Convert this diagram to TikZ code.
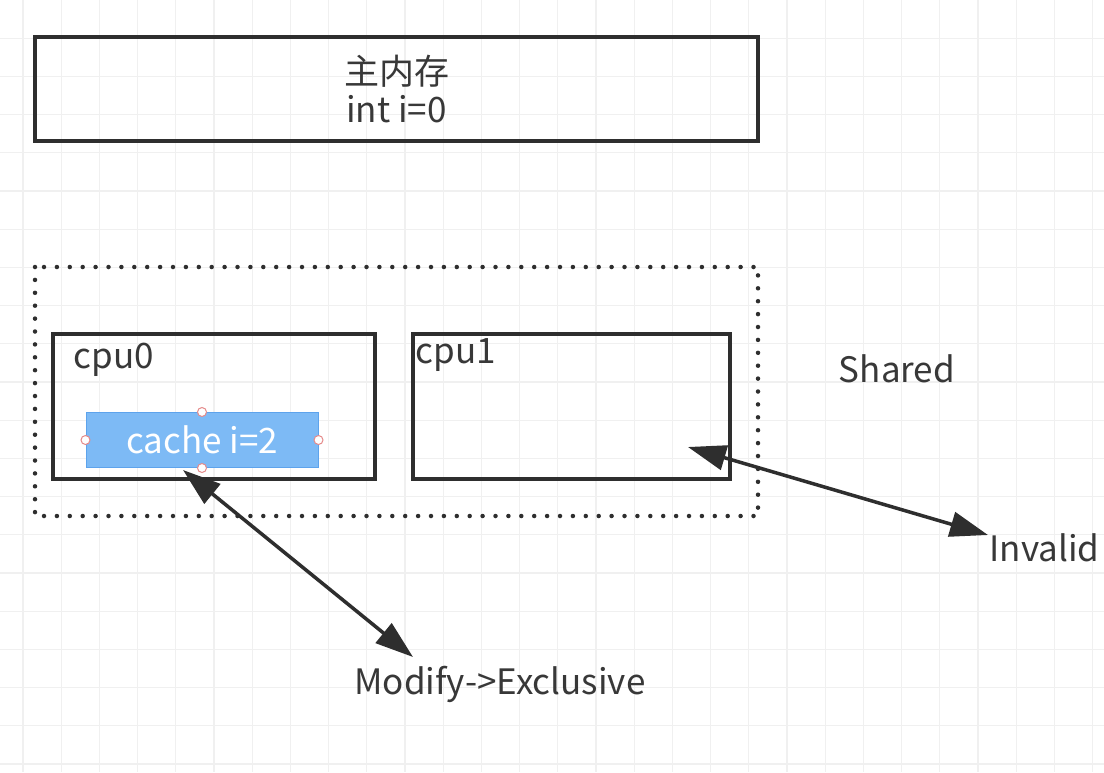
\documentclass[tikz,border=0pt]{standalone}
\usepackage{fontspec}
\setmainfont{Noto Sans CJK SC}
\usetikzlibrary{positioning, arrows.meta}

\definecolor{boxgray}{HTML}{2E2E2E}
\definecolor{txtgray}{HTML}{383838}
\definecolor{gridgray}{HTML}{F0F0F0}
\definecolor{cachefill}{HTML}{7DBAF5}
\definecolor{cacheedge}{HTML}{5DA3EC}
\definecolor{handlered}{HTML}{E58A8A}

\tikzset{
  every node/.style={text=txtgray, font=\fontsize{35}{38}\selectfont},
  membox/.style={draw=boxgray, line width=3.5pt, minimum width=723pt,
    minimum height=104pt, align=center, inner sep=0pt},
  cpubox/.style={draw=boxgray, line width=3.5pt, minimum height=145pt, inner sep=0pt},
  cachebox/.style={fill=cachefill, draw=cacheedge, line width=1pt, text=white,
    minimum width=232pt, minimum height=55pt, inner sep=0pt},
  handle/.style={circle, draw=handlered, fill=white, line width=1pt,
    minimum size=9pt, inner sep=0pt},
  bigarrow/.style={boxgray, line width=3.5pt,
    {Triangle[length=38pt,width=25pt]}-{Triangle[length=38pt,width=25pt]}}
}

\begin{document}
\begin{tikzpicture}[x=1pt, y=-1pt]
  \useasboundingbox (0,0) rectangle (1104,772);
  \fill[white] (0,0) rectangle (1104,772);

  % background grid
  \foreach \i in {0,...,28}
    \draw[gridgray, line width=1.2pt] ({23+\i*38.2},0) -- ({23+\i*38.2},772);
  \foreach \j in {1,...,20}
    \draw[gridgray, line width=1.2pt] (0,{\j*38.2}) -- (1104,{\j*38.2});

  % main memory
  \node[membox] (mem) at (396.5,89) {主内存\\int i=0};

  % cpu group (dotted frame)
  \draw[boxgray, line width=4.5pt, line cap=round, dash pattern=on 0pt off 12.9pt]
    (35,267) rectangle (758,516);

  \node[cpubox, minimum width=322pt] (cpu0) at (214,406.5) {};
  \node[cpubox, minimum width=317pt] (cpu1) at (571.5,406.5) {};
  \node[anchor=west] (cpu0lbl) at (70,360) {cpu0};
  \node[anchor=west] (cpu1lbl) at (412,355) {cpu1};

  % cache line of cpu0 (selected)
  \node[cachebox] (cache) at (202,440) {cache i=2};
  \foreach \a in {north, south, east, west}
    \node[handle] at (cache.\a) {};

  % state labels
  \node (shared) at (897,369) {Shared};
  \node[anchor=west] (invalid) at (986,548) {Invalid};
  \node (modify) at (500,684) {Modify->Exclusive};

  % arrows
  \coordinate (c0hit) at (183,470);
  \coordinate (c1hit) at (688,447);
  \coordinate (modtip) at (413,657);
  \coordinate (invtip) at (988,535);
  \draw[bigarrow] (c0hit) -- (modtip);
  \draw[bigarrow] (c1hit) -- (invtip);
\end{tikzpicture}
\end{document}
